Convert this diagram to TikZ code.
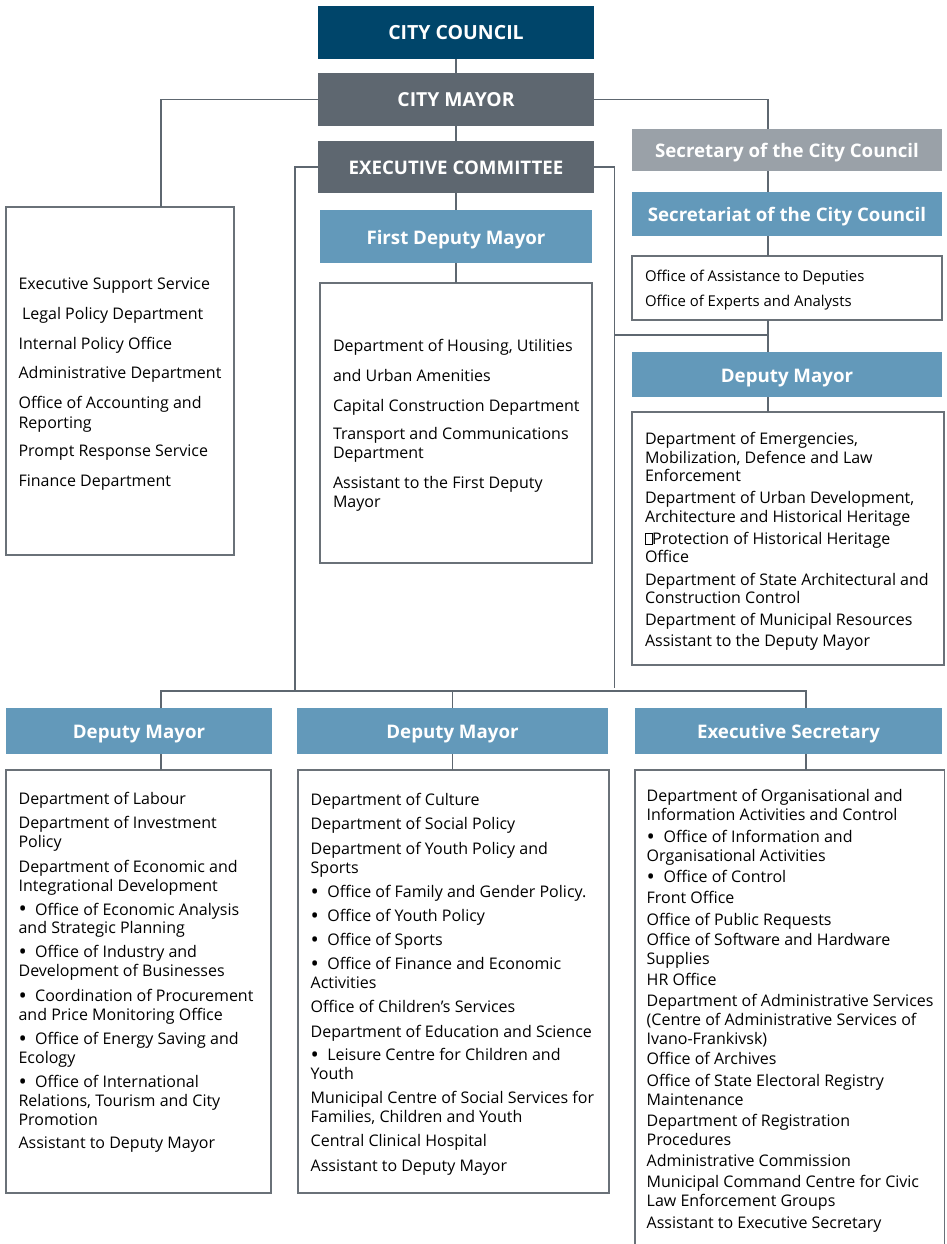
\documentclass[tikz,border=0pt]{standalone}
\usepackage{fontspec}
\setmainfont{Open Sans}
\definecolor{navy}{HTML}{00456A}
\definecolor{dgray}{HTML}{5E6770}
\definecolor{lgray}{HTML}{9AA1A8}
\definecolor{hblue}{HTML}{6399BA}
\definecolor{lncol}{HTML}{5E6770}
\definecolor{bdcol}{HTML}{6A7178}
\newcommand{\bul}{\makebox[16.6pt][l]{\raisebox{-1.8pt}{\fontsize{22}{22}\selectfont •}}}
\newcommand{\bulc}{\makebox[17pt][l]{\raisebox{-1.8pt}{\fontsize{22}{22}\selectfont •}}}
\newcommand{\fl}{\rule{0pt}{13pt}}
\newcommand{\missingglyph}{{\fboxsep=0pt\fboxrule=0.6pt\fbox{\rule{0pt}{11pt}\hspace{6pt}}}}
\begin{document}
\begin{tikzpicture}[x=1pt,y=-1pt,
  hdr/.style={rectangle, draw=none, inner sep=0pt, outer sep=0pt, text=white,
    text height=15pt, text depth=0pt,
    font=\fontsize{18.7}{22}\selectfont\bfseries},
  boxn/.style={rectangle, draw=bdcol, line width=1.6pt, fill=white, inner sep=0pt, outer sep=0pt},
  txt/.style={inner sep=0pt, outer sep=0pt, align=left, anchor=north west},
  conn/.style={draw=lncol, line width=1.8pt}]
\useasboundingbox (0,0) rectangle (946,1244);
\clip (0,0) rectangle (946,1244);
\fill[white] (0,0) rectangle (946,1244);

% ---------- header nodes ----------
\node[hdr, fill=navy, minimum width=276pt, minimum height=53pt, font=\fontsize{19.5}{22}\selectfont\bfseries] (cc) at (456,32.5) {CITY COUNCIL};
\node[hdr, fill=dgray, minimum width=276pt, minimum height=53pt, font=\fontsize{19.3}{22}\selectfont\bfseries] (mayor) at (456,99.5) {CITY MAYOR};
\node[hdr, fill=dgray, minimum width=276pt, minimum height=52pt] (exec) at (456,167) {EXECUTIVE COMMITTEE};
\node[hdr, fill=hblue, minimum width=272pt, minimum height=53pt] (fdm) at (456,236.5) {First Deputy Mayor};
\node[hdr, fill=lgray, minimum width=310pt, minimum height=42pt] (sec) at (787,150) {Secretary of the City Council};
\node[hdr, fill=hblue, minimum width=310pt, minimum height=44pt] (secr) at (787,214) {Secretariat of the City Council};
\node[hdr, fill=hblue, minimum width=310pt, minimum height=45pt] (dmR) at (787,374.5) {Deputy Mayor};
\node[hdr, fill=hblue, minimum width=266pt, minimum height=46pt] (dm1) at (139,731) {Deputy Mayor};
\node[hdr, fill=hblue, minimum width=311pt, minimum height=46pt] (dm2) at (452.5,731) {Deputy Mayor};
\node[hdr, fill=hblue, minimum width=307pt, minimum height=46pt] (es) at (788.5,731) {Executive Secretary};

% ---------- content boxes ----------
\node[boxn, minimum width=228pt, minimum height=348pt] (leftbox) at (120,381) {};
\node[boxn, minimum width=272pt, minimum height=280pt] (fdmbox) at (456,423) {};
\node[boxn, minimum width=310pt, minimum height=64pt] (offbox) at (787,288) {};
\node[boxn, minimum width=312pt, minimum height=253pt] (dmRbox) at (788,538.5) {};
\node[boxn, minimum width=265pt, minimum height=423pt] (box1) at (138.5,981.5) {};
\node[boxn, minimum width=311pt, minimum height=423pt] (box2) at (453.5,981.5) {};
\node[boxn, minimum width=309.5pt, minimum height=490pt] (box3) at (789.75,1015) {};

% ---------- connectors ----------
\coordinate (busL) at (295,691);
\coordinate (busR) at (614.5,688);
\coordinate (br) at (768,335);
\draw[conn] (cc) -- (mayor);
\draw[conn] (mayor) -- (exec);
\draw[conn] (exec) -- (fdm);
\draw[conn] (fdm) -- (fdmbox);
\draw[conn] (mayor.west) -| ([xshift=41pt]leftbox.north);
\draw[conn] (mayor.east) -| ([xshift=-19pt]sec.north);
\draw[conn] ([xshift=-19pt]sec.south) -- ([xshift=-19pt]secr.north);
\draw[conn] ([xshift=-19pt]secr.south) -- ([xshift=-19pt]offbox.north);
\draw[conn] ([xshift=-19pt]offbox.south) -- ([xshift=-19pt]dmR.north);
\draw[conn] ([xshift=-19pt]dmR.south) -- ([xshift=-20pt]dmRbox.north);
\draw[conn] (exec.west) -| (busL);
\draw[conn] (exec.east) -| (busR);
\draw[conn] (br) -- (br -| busR);
\draw[conn] ([xshift=22pt]dm1.north) -- ++(0,-17) -| ([xshift=17.5pt]es.north);
\draw[conn] (dm2.north) -- ++(0,-17);
\draw[conn] ([xshift=22pt]dm1.south) -- ([xshift=22.5pt]box1.north);
\draw[conn] (dm2.south) -- ([xshift=-1pt]box2.north);
\draw[conn] ([xshift=17.5pt]es.south) -- ([xshift=16.25pt]box3.north);

% ---------- texts ----------
\node[txt, font=\fontsize{16}{20}\selectfont] (lefttext) at (18.6,276) {%
\fl Executive Support Service\\[10pt]
\hspace{3.5pt}Legal Policy Department\\[10pt]
Internal Policy Office\\[9pt]
Administrative Department\\[10pt]
Office of Accounting and\\
Reporting\\[8pt]
Prompt Response Service\\[10pt]
Finance Department};

\node[txt, font=\fontsize{16}{19}\selectfont] (fdmtext) at (333,338) {%
\fl Department of Housing, Utilities\\[11pt]
and Urban Amenities\\[11pt]
Capital Construction Department\\[9pt]
Transport and Communications\\
Department\\[11pt]
Assistant to the First Deputy\\
Mayor};

\node[txt, font=\fontsize{14.9}{25}\selectfont] (offtext) at (645,268) {%
\fl Office of Assistance to Deputies\\
Office of Experts and Analysts};

\node[txt, font=\fontsize{16}{18.7}\selectfont] (dmRtext) at (645,431.5) {%
\fl Department of Emergencies,\\
Mobilization, Defence and Law\\
Enforcement\\[2.7pt]
Department of Urban Development,\\
Architecture and Historical Heritage\\[3.5pt]
\missingglyph Protection of Historical Heritage\\
Office\\[3.5pt]
Department of State Architectural and\\
Construction Control\\[3pt]
Department of Municipal Resources\\[2.3pt]
Assistant to the Deputy Mayor};

\node[txt, font=\fontsize{16}{18.9}\selectfont] (box1text) at (18.6,791.5) {%
\fl Department of Labour\\[5pt]
Department of Investment\\
Policy\\[6pt]
Department of Economic and\\
Integrational Development\\[5pt]
\bul Office of Economic Analysis\\
and Strategic Planning\\[5pt]
\bul Office of Industry and\\
Development of Businesses\\[6pt]
\bul Coordination of Procurement\\
and Price Monitoring Office\\[5pt]
\bul Office of Energy Saving and\\
Ecology\\[5pt]
\bul Office of International\\
Relations, Tourism and City\\
Promotion\\[5pt]
Assistant to Deputy Mayor};

\node[txt, font=\fontsize{16}{19}\selectfont] (box2text) at (310.7,792.5) {%
\fl Department of Culture\\[5pt]
Department of Social Policy\\[6pt]
Department of Youth Policy and\\
Sports\\[5pt]
\bul Office of Family and Gender Policy.\\[5pt]
\bul Office of Youth Policy\\[5pt]
\bul Office of Sports\\[5pt]
\bul Office of Finance and Economic\\
Activities\\[5pt]
Office of Children’s Services\\[6pt]
Department of Education and Science\\[4pt]
\bul Leisure Centre for Children and\\
Youth\\[5pt]
Municipal Centre of Social Services for\\
Families, Children and Youth\\[5pt]
Central Clinical Hospital\\[6pt]
Assistant to Deputy Mayor};

\node[txt, font=\fontsize{16}{18.8}\selectfont] (box3text) at (646.7,788.5) {%
\fl Department of Organisational and\\
Information Activities and Control\\[3.5pt]
\bulc Office of Information and\\
Organisational Activities\\[2.5pt]
\bulc Office of Control\\[2.3pt]
Front Office\\[3pt]
Office of Public Requests\\[1.5pt]
Office of Software and Hardware\\
Supplies\\[1.5pt]
HR Office\\[3pt]
Department of Administrative Services\\
(Centre of Administrative Services of\\
Ivano-Frankivsk)\\[1.5pt]
Office of Archives\\[3pt]
Office of State Electoral Registry\\
Maintenance\\[2.5pt]
Department of Registration\\
Procedures\\[2.3pt]
Administrative Commission\\[2.3pt]
Municipal Command Centre for Civic\\
Law Enforcement Groups\\[3pt]
Assistant to Executive Secretary};
\end{tikzpicture}
\end{document}
